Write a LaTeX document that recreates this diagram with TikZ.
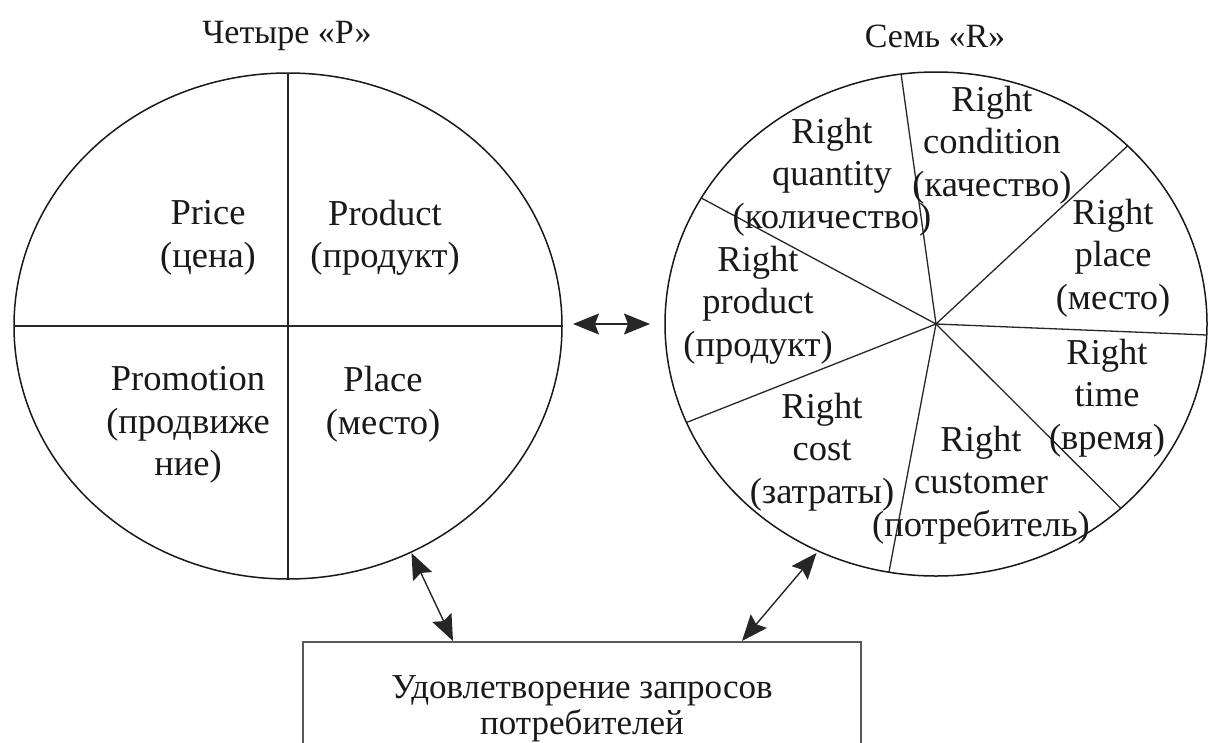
\documentclass[tikz,border=0pt]{standalone}
\usepackage{fontspec}
\setmainfont{Liberation Serif}
\usetikzlibrary{arrows.meta}
\tikzset{
  lbl/.style={inner sep=0pt, align=center, xscale=1.0, font=\fontsize{36.5}{42.5}\selectfont, text=black!90},
  ttl/.style={inner sep=0pt, xscale=1.0, font=\fontsize{34}{36}\selectfont, text=black!90},
  circ/.style={line width=1.5pt, draw=black!90},
  spoke/.style={line width=1.3pt, draw=black!85},
  boxst/.style={draw=black!65, line width=2.2pt, rectangle, inner sep=0pt},
  dbl/.style={line width=1.4pt, draw=black!85, {Stealth[length=26pt,width=21pt,inset=4pt]}-{Stealth[length=26pt,width=21pt,inset=4pt]}}
}
\begin{document}
\begin{tikzpicture}[x=1pt,y=-1pt]
\useasboundingbox (0,0) rectangle (1213,742);
\clip (0,0) rectangle (1213,742);
% left circle
\coordinate (lc) at (288,326);
\draw[circ] (lc) ellipse [x radius=274pt, y radius=253pt];
\draw[spoke] (288,73) -- (288,579);
\draw[spoke] (14,326) -- (562,326);
% right circle
\coordinate (rc) at (936,324);
\draw[circ] (rc) ellipse [x radius=271pt, y radius=252pt];
\foreach \a [count=\i] in {97.4,45,-2.5,-47,260,203,150}{
  \coordinate (s\i) at ([shift={(\a:271pt and 252pt)}]rc);
  \draw[spoke] (rc) -- (s\i);
}
% titles
\node[ttl] (t4p) at (287,36) {Четыре «Р»};
\node[ttl] (t7r) at (935,36) {Семь «R»};
% left labels
\node[lbl] (price) at (208,238) {Price\\(цена)};
\node[lbl] (product) at (385,238) {Product\\(продукт)};
\node[lbl] (promo) at (188,425) {Promotion\\(продвиже\\ние)};
\node[lbl] (place) at (383,404) {Place\\(место)};
% right labels
\node[lbl] (rquant) at (832,177) {Right\\quantity\\(количество)};
\node[lbl] (rcond) at (992,145) {Right\\condition\\(качество)};
\node[lbl] (rplace) at (1113,258) {Right\\place\\(место)};
\node[lbl] (rprod) at (758,305) {Right\\product\\(продукт)};
\node[lbl] (rtime) at (1107,398) {Right\\time\\(время)};
\node[lbl] (rcost) at (822,452) {Right\\cost\\(затраты)};
\node[lbl] (rcust) at (981,485) {Right\\customer\\(потребитель)};
% box
\node[boxst, minimum width=558pt, minimum height=140pt, anchor=north] (box) at (582,641) {};
\node[lbl, font=\fontsize{35}{36}\selectfont] (boxtext) at (582,709) {Удовлетворение запросов\\потребителей};
% connectors
\coordinate (m1) at (573,324);
\coordinate (m2) at (650,324);
\draw[dbl] (m1) -- (m2);
\coordinate (l1) at (411.5,553);
\coordinate (b1) at (453,641);
\draw[dbl] (l1) -- (b1);
\coordinate (r1) at (816.5,553);
\coordinate (b2) at (742,641);
\draw[dbl] (r1) -- (b2);
\end{tikzpicture}
\end{document}
